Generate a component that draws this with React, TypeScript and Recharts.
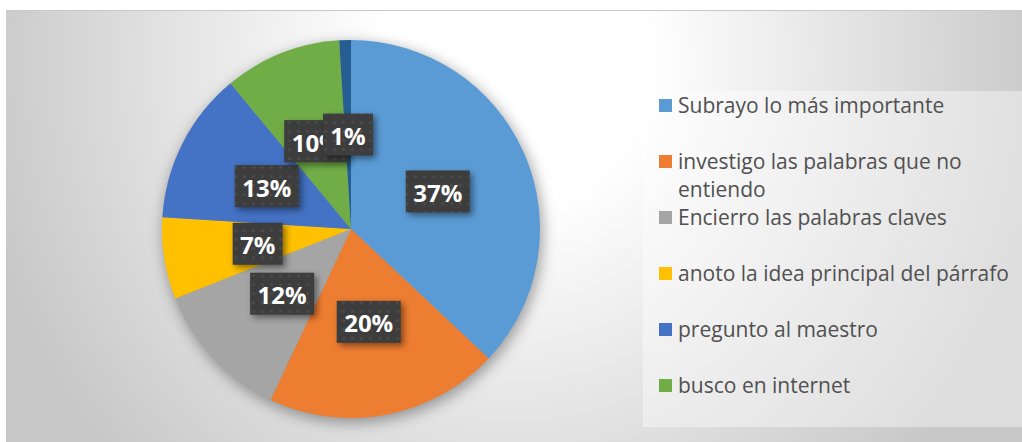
import React from "react";
import { PieChart, Pie, Cell, Legend } from "recharts";

const categories = [
  "Subrayo lo más importante",
  "investigo las palabras que no entiendo",
  "Encierro las palabras claves",
  "anoto la idea principal del párrafo",
  "pregunto al maestro",
  "busco en internet",
  "otros",
];
const values = [37, 20, 12, 7, 13, 10, 1];
const colors = ["#5B9BD5", "#ED7D31", "#A5A5A5", "#FFC000", "#4472C4", "#70AD47", "#255E91"];
const legendCount = 6;

const data = categories.map((name, i) => ({ name, value: values[i] }));
const shadowData = [{ name: "shadow", value: values.reduce((a, b) => a + b, 0) }];

const RAD = Math.PI / 180;

const renderLabel = (props: any) => {
  const { cx, cy, midAngle, outerRadius, percent, index } = props;
  const r = outerRadius * 0.5;
  const x = cx + r * Math.cos(-midAngle * RAD);
  const y = cy + r * Math.sin(-midAngle * RAD);
  const text = `${Math.round(percent * 100)}%`;
  const w = text.length >= 3 ? 64 : 50;
  const h = 42;
  return (
    <g key={`lbl-${index}`}>
      {index === 0 && (
        <defs>
          <pattern id="dots" width="9" height="9" patternUnits="userSpaceOnUse">
            <rect width="9" height="9" fill="#3d3d3d" />
            <circle cx="4.5" cy="4.5" r="1.6" fill="#4a4a4a" />
          </pattern>
        </defs>
      )}
      <rect
        x={x - w / 2}
        y={y - h / 2}
        width={w}
        height={h}
        fill="url(#dots)"
        style={{ filter: "drop-shadow(3px 3px 3px rgba(0,0,0,0.45))" }}
      />
      <text
        x={x}
        y={y + 1}
        textAnchor="middle"
        dominantBaseline="central"
        fill="#ffffff"
        fontFamily="'Open Sans', sans-serif"
        fontWeight={700}
        fontSize={24}
      >
        {text}
      </text>
    </g>
  );
};

const LegendContent = () => {
  const items = categories.slice(0, legendCount).map((name, i) => ({ name, color: colors[i] }));
  return (
    <div
      style={{
        width: 379,
        height: 336,
        background: "rgba(255,255,255,0.4)",
        boxSizing: "border-box",
      }}
    >
      <div style={{ marginTop: -1 }}>
        {items.map((p, i) => (
          <div
            key={i}
            style={{
              height: 56,
              display: "flex",
              alignItems: "flex-start",
              fontFamily: "'Open Sans', sans-serif",
              fontSize: 21,
              lineHeight: "28px",
              color: "#505050",
            }}
          >
            <div
              style={{
                width: 13,
                height: 13,
                background: p.color,
                marginLeft: 16,
                marginTop: 8,
                marginRight: 6,
                flexShrink: 0,
              }}
            />
            <div style={{ width: 340 }}>{p.name}</div>
          </div>
        ))}
      </div>
    </div>
  );
};

export default function App() {
  return (
    <div style={{ position: "absolute", left: 0, top: 0, width: 1022, height: 442, background: "#ffffff" }}>
      <div
        style={{
          position: "absolute",
          left: 6,
          top: 10,
          width: 1016,
          height: 432,
          borderTop: "1px solid #c8c8c8",
          boxSizing: "border-box",
          background:
            "radial-gradient(ellipse 540px 580px at 507px 50px, #ffffff 0%, #ffffff 25%, #c8c8c8 100%)",
        }}
      >
        <PieChart
          width={1016}
          height={432}
          margin={{ top: 0, right: 0, bottom: 0, left: 0 }}
          style={{ position: "absolute", left: 0, top: -1 }}
        >
          <Pie
            data={shadowData}
            dataKey="value"
            cx={347}
            cy={223}
            outerRadius={190}
            startAngle={90}
            endAngle={-270}
            stroke="none"
            isAnimationActive={false}
            legendType="none"
          >
            <Cell fill="rgba(0,0,0,0.35)" style={{ filter: "blur(7px)" }} />
          </Pie>
          <Pie
            data={data}
            dataKey="value"
            nameKey="name"
            cx={345}
            cy={219}
            outerRadius={189}
            startAngle={90}
            endAngle={-270}
            stroke="none"
            labelLine={false}
            label={renderLabel}
            isAnimationActive={false}
          >
            {data.map((d, i) => (
              <Cell key={d.name} fill={colors[i]} />
            ))}
          </Pie>
          <Legend
            layout="vertical"
            align="right"
            verticalAlign="top"
            content={<LegendContent />}
            wrapperStyle={{ position: "absolute", left: 637, top: 82, width: 379, height: 336 }}
          />
        </PieChart>
      </div>
    </div>
  );
}
